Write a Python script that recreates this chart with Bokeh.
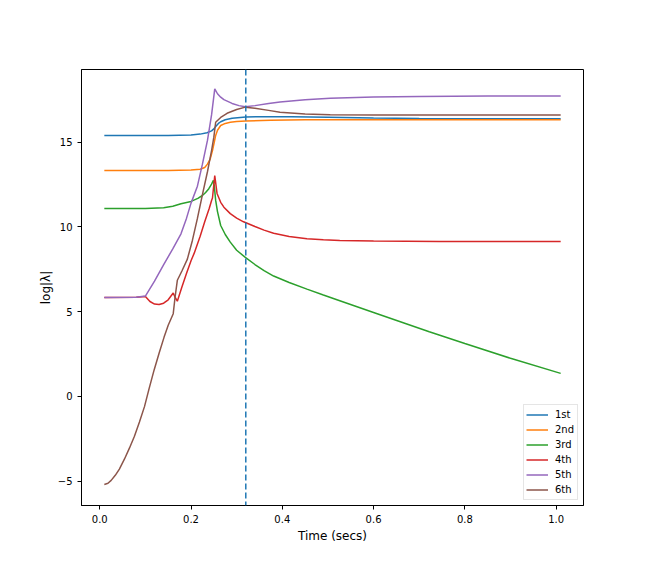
from bokeh.plotting import figure
from bokeh.models import Range1d, FixedTicker, Span, PrintfTickFormatter
from bokeh.embed import file_html
from bokeh.resources import INLINE

# ---- data ----
x1 = [0.01, 0.15, 0.2, 0.22, 0.235, 0.245, 0.25, 0.255, 0.26, 0.265, 0.275, 0.29, 0.32, 0.36, 0.42, 0.5, 0.6, 0.7, 0.85, 1.01]
y1 = [15.39, 15.39, 15.42, 15.47, 15.55, 15.66, 15.78, 15.95, 16.1, 16.2, 16.32, 16.41, 16.48, 16.5, 16.49, 16.46, 16.42, 16.39, 16.38, 16.37]

x2 = [0.01, 0.15, 0.2, 0.22, 0.23, 0.236, 0.242, 0.247, 0.251, 0.254, 0.258, 0.265, 0.275, 0.286, 0.3, 0.32, 0.374, 0.45, 0.6, 0.8, 1.01]
y2 = [13.33, 13.33, 13.35, 13.4, 13.5, 13.7, 14.0, 14.5, 15.0, 15.39, 15.7, 15.98, 16.1, 16.17, 16.21, 16.24, 16.29, 16.31, 16.32, 16.32, 16.31]

x3 = [0.01, 0.1, 0.14, 0.16, 0.178, 0.2, 0.215, 0.225, 0.232, 0.239, 0.245, 0.249, 0.251, 0.254, 0.258, 0.265, 0.275, 0.286, 0.3, 0.319, 0.34, 0.36, 0.381, 0.415, 0.454, 0.49, 0.526, 0.6, 0.722, 0.8, 0.9, 1.01]
y3 = [11.08, 11.09, 11.13, 11.22, 11.36, 11.5, 11.68, 11.85, 12.03, 12.25, 12.52, 12.74, 12.4, 11.56, 10.9, 10.08, 9.55, 9.1, 8.62, 8.2, 7.78, 7.42, 7.1, 6.72, 6.33, 5.98, 5.64, 4.95, 3.82, 3.12, 2.25, 1.36]

x4 = [0.01, 0.08, 0.1, 0.11, 0.12, 0.13, 0.14, 0.15, 0.161, 0.165, 0.17, 0.18, 0.19, 0.2, 0.207, 0.22, 0.23, 0.24, 0.245, 0.247, 0.252, 0.257, 0.265, 0.272, 0.286, 0.3, 0.315, 0.34, 0.36, 0.381, 0.415, 0.454, 0.49, 0.526, 0.6, 0.744, 1.01]
y4 = [5.84, 5.85, 5.9, 5.6, 5.45, 5.42, 5.5, 5.7, 6.1, 5.85, 5.62, 6.45, 7.25, 8.0, 8.45, 9.45, 10.3, 11.1, 11.56, 11.7, 13.03, 11.97, 11.45, 11.16, 10.78, 10.52, 10.3, 10.02, 9.81, 9.62, 9.43, 9.3, 9.24, 9.2, 9.16, 9.14, 9.14]

x5 = [0.01, 0.08, 0.1, 0.12, 0.141, 0.16, 0.178, 0.19, 0.2, 0.214, 0.225, 0.236, 0.245, 0.252, 0.258, 0.265, 0.272, 0.29, 0.305, 0.319, 0.34, 0.37, 0.395, 0.45, 0.505, 0.6, 0.7, 0.85, 1.01]
y5 = [5.84, 5.85, 5.92, 6.8, 7.82, 8.7, 9.59, 10.5, 11.4, 12.4, 13.7, 15.1, 16.6, 18.14, 17.85, 17.65, 17.5, 17.28, 17.15, 17.08, 17.15, 17.27, 17.37, 17.5, 17.59, 17.66, 17.69, 17.71, 17.71]

x6 = [0.01, 0.018, 0.025, 0.034, 0.043, 0.054, 0.065, 0.076, 0.087, 0.098, 0.108, 0.119, 0.13, 0.141, 0.15, 0.161, 0.165, 0.17, 0.18, 0.192, 0.203, 0.214, 0.225, 0.236, 0.245, 0.25, 0.254, 0.265, 0.279, 0.3, 0.319, 0.34, 0.37, 0.395, 0.45, 0.505, 0.6, 0.8, 1.01]
y6 = [-5.19, -5.12, -4.95, -4.65, -4.28, -3.7, -3.05, -2.35, -1.5, -0.6, 0.45, 1.55, 2.55, 3.5, 4.2, 4.88, 5.85, 6.85, 7.4, 8.1, 9.2, 10.5, 11.9, 13.25, 14.5, 15.29, 16.17, 16.45, 16.7, 16.92, 17.06, 17.0, 16.87, 16.76, 16.66, 16.61, 16.6, 16.59, 16.59]

labels = ["1st", "2nd", "3rd", "4th", "5th", "6th"]
colors = ["#1f77b4", "#ff7f0e", "#2ca02c", "#d62728", "#9467bd", "#8c564b"]
vline_x = 0.32

x_ticks = [0.0, 0.2, 0.4, 0.6, 0.8, 1.0]
y_ticks = [-5, 0, 5, 10, 15]
y_tick_labels = {-5: "\u22125", 0: "0", 5: "5", 10: "10", 15: "15"}

FONT = "DejaVu Sans"

p = figure(width=632, height=560, output_backend="svg", toolbar_location=None,
           x_range=Range1d(-0.04, 1.06), y_range=Range1d(-6.43, 19.28),
           min_border_left=81, min_border_right=49, min_border_top=69, min_border_bottom=55)

p.background_fill_color = "white"
p.border_fill_color = "white"
p.outline_line_color = "black"
p.outline_line_width = 1
p.xgrid.visible = False
p.ygrid.visible = False

for xs, ys, lab, col in zip([x1, x2, x3, x4, x5, x6], [y1, y2, y3, y4, y5, y6], labels, colors):
    p.line(xs, ys, line_color=col, line_width=1.5, legend_label=lab)

span = Span(location=vline_x, dimension="height", line_color="#1f77b4",
            line_width=1.5, line_dash="6 3")
p.add_layout(span)

for ax in (p.xaxis[0], p.yaxis[0]):
    ax.major_tick_in = 0
    ax.major_tick_out = 4
    ax.minor_tick_line_color = None
    ax.axis_line_color = "black"
    ax.major_tick_line_color = "black"
    ax.major_label_text_font = FONT
    ax.major_label_text_font_size = "10px"
    ax.major_label_text_color = "black"
    ax.axis_label_text_font = FONT
    ax.axis_label_text_font_size = "12px"
    ax.axis_label_text_font_style = "normal"
    ax.axis_label_text_color = "black"

p.xaxis.ticker = FixedTicker(ticks=x_ticks)
p.xaxis.formatter = PrintfTickFormatter(format="%.1f")
p.yaxis.ticker = FixedTicker(ticks=y_ticks)
p.yaxis.major_label_overrides = y_tick_labels
p.xaxis.axis_label = "Time (secs)"
p.yaxis.axis_label = "log|\u03bb|"
p.xaxis.axis_label_standoff = 3
p.yaxis.axis_label_standoff = 2

lg = p.legend[0]
lg.location = "bottom_right"
lg.margin = 5
lg.padding = 2
lg.spacing = 0
lg.label_height = 15
lg.glyph_height = 15
lg.glyph_width = 22
lg.label_standoff = 7
lg.label_text_font = FONT
lg.label_text_font_size = "10px"
lg.label_text_color = "black"
lg.border_line_color = "#cccccc"
lg.border_line_width = 1
lg.background_fill_alpha = 0.8

open("out.html", "w").write(file_html(p, INLINE))
